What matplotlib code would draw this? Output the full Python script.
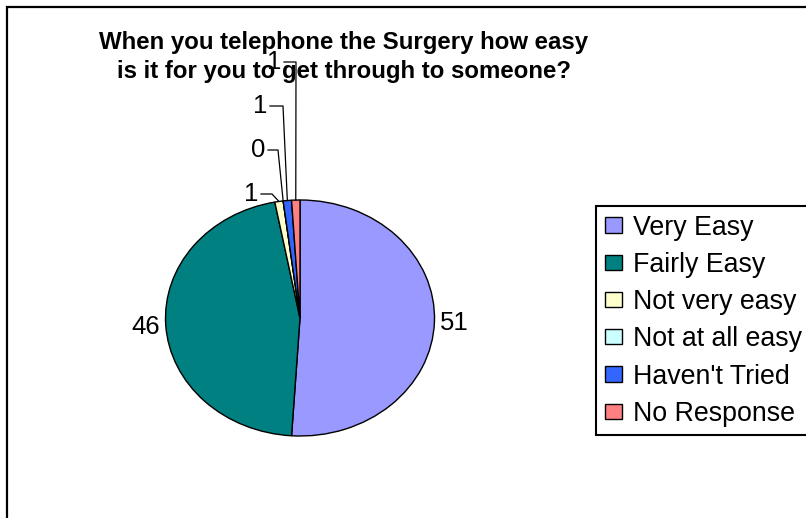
import numpy as np
import matplotlib
matplotlib.use('Agg')
import matplotlib.pyplot as plt
from matplotlib.patches import Rectangle

# ---------------- data ----------------
categories = ['Very Easy', 'Fairly Easy', 'Not very easy', 'Not at all easy',
              "Haven't Tried", 'No Response']
responses = [51, 46, 1, 0, 1, 1]
colors = ['#9999FF', '#008080', '#FFFFCC', '#CCFFFF', '#3366FF', '#FF8080']
title = 'When you telephone the Surgery how easy\nis it for you to get through to someone?'

# ---------------- layout (pixels, origin top-left) ----------------
W, H = 806, 518
RX, RY = 134.5, 118.0          # pie is squashed: horizontal / vertical radius in px
pie_centre = (300, 318)
label_font = 18.5
legend_font = 19.3
title_font = 17.3
# small slices get leader lines: (label right edge x, label y, knee x)
leader_layout = {2: (258, 194, 272), 3: (265, 150, 278),
                 4: (267, 106, 283), 5: (281, 62, 296)}


def P(x, y):
    """pixel (from top-left) -> data coords of the full-figure axes"""
    return x / RX, -y / RY


plt.rcParams['font.family'] = ['Liberation Sans', 'DejaVu Sans']

fig = plt.figure(figsize=(W / 100, H / 100), dpi=100)
ax = fig.add_axes([0, 0, 1, 1])

wedges, _ = ax.pie(responses, colors=colors, startangle=90, counterclock=False,
                   center=P(*pie_centre), radius=1,
                   wedgeprops=dict(edgecolor='black', linewidth=1.0))
ax.set_aspect('auto')
ax.set_xlim(0, W / RX)
ax.set_ylim(-H / RY, 0)
ax.axis('off')

cx, cy = P(*pie_centre)

# value labels
for i, (w, v) in enumerate(zip(wedges, responses)):
    mid = np.deg2rad((w.theta1 + w.theta2) / 2)
    ex, ey = cx + np.cos(mid), cy + np.sin(mid)
    if i in leader_layout:
        lx, ly, kx = leader_layout[i]
        tx, ty = P(lx, ly)
        k0, _ = P(lx + 3, ly)
        k1, _ = P(kx, ly)
        ax.plot([k0, k1, ex], [ty, ty, ey], color='black', lw=0.9)
        ax.text(tx, ty, str(v), ha='right', va='center', fontsize=label_font)
    else:
        d = 1.04
        ax.text(cx + d * np.cos(mid), cy + d * np.sin(mid) - 0.01, str(v),
                ha='left' if np.cos(mid) > 0 else 'right', va='center',
                fontsize=label_font)

# outer chart border (right and bottom edges fall outside the picture)
x0, y0 = P(7, 7)
x1, y1 = P(830, 540)
ax.add_patch(Rectangle((x0, y1), x1 - x0, y0 - y1, fill=False,
                       edgecolor='black', lw=1.6, clip_on=False))

fig.text(344 / W, 1 - 31 / H, title, ha='center', va='top', multialignment='center',
         fontsize=title_font, fontweight='bold', linespacing=1.33)

leg = ax.legend(wedges, categories, loc='upper left',
                bbox_to_anchor=(596 / W, 1 - 206 / H), bbox_transform=fig.transFigure,
                fontsize=legend_font, frameon=True, fancybox=False, borderaxespad=0,
                handlelength=0.64, handleheight=0.5, handletextpad=0.42,
                borderpad=0.32, labelspacing=0.42)
frame = leg.get_frame()
frame.set_edgecolor('black')
frame.set_linewidth(1.5)
frame.set_alpha(1)

fig.savefig('out.png', dpi=100)
